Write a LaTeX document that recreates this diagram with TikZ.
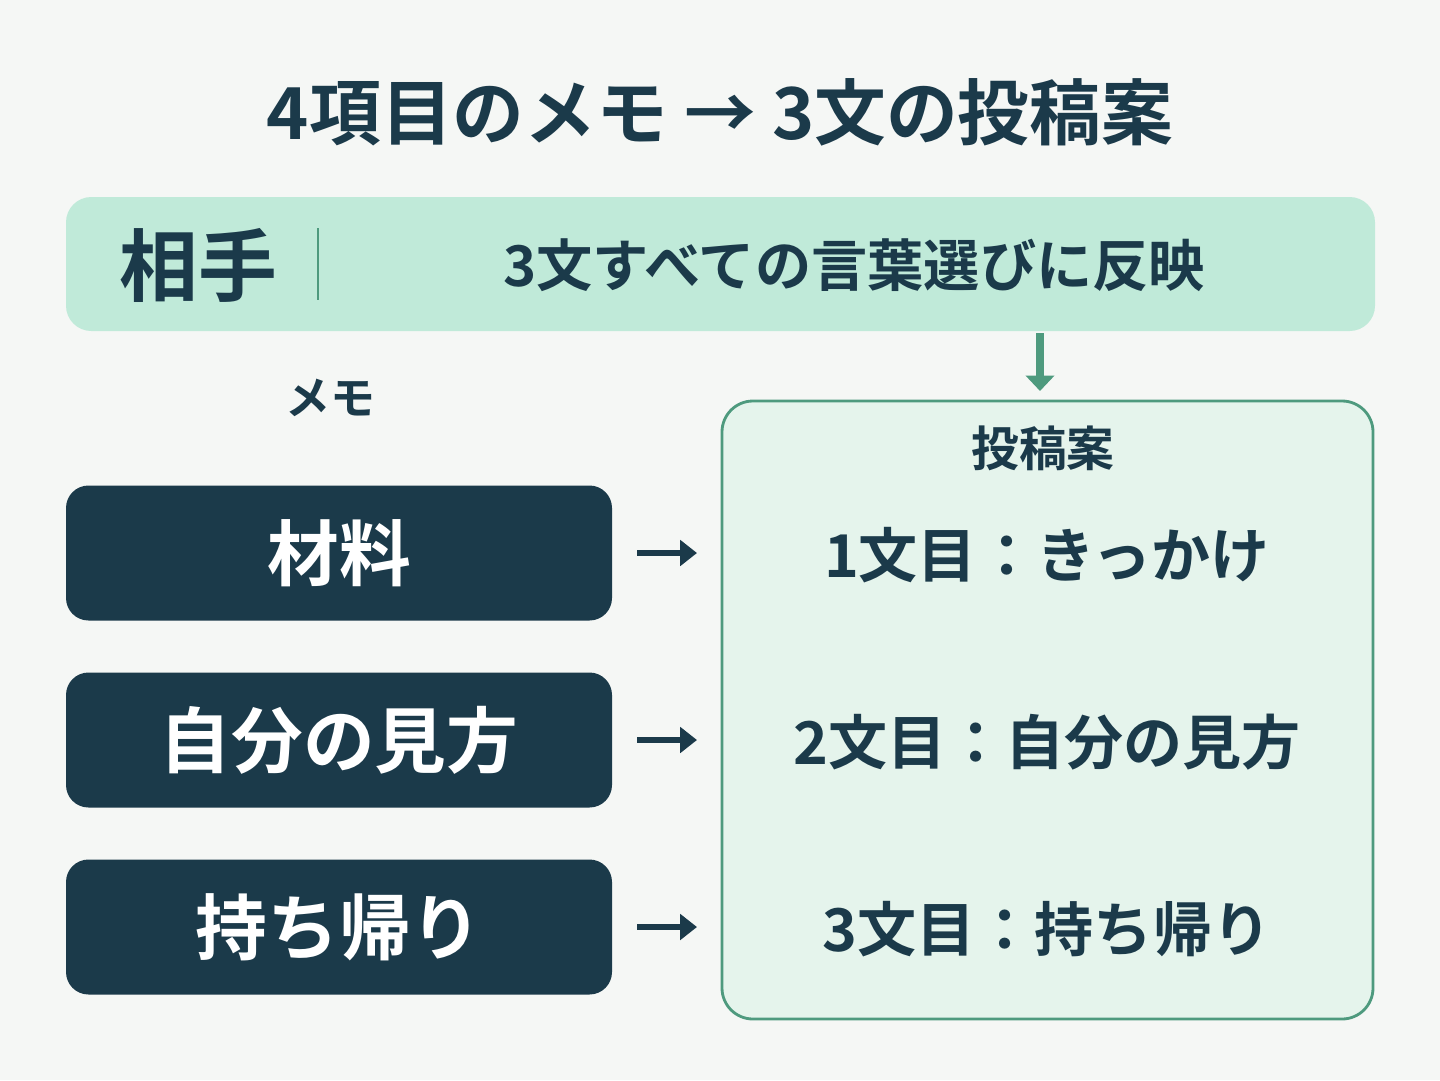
\documentclass[tikz,border=0pt]{standalone}
\usepackage{fontspec}
\setmainfont{Noto Sans CJK JP Bold}
\usetikzlibrary{arrows.meta}
\definecolor{bg}{HTML}{F5F7F5}
\definecolor{dark}{HTML}{1B3A4A}
\definecolor{mint}{HTML}{C0EAD9}
\definecolor{pale}{HTML}{E5F4EC}
\definecolor{grn}{HTML}{4E9A7E}
\tikzset{
 dbox/.style={fill=dark,rounded corners=16pt},
 dtxt/.style={text=white,font=\fontsize{51}{55}\selectfont,anchor=center},
 rtxt/.style={text=dark,font=\fontsize{42}{46}\selectfont,anchor=center},
 sarr/.style={draw=dark,line width=4.5pt,-{Triangle[length=12pt,width=18pt]}},
}
\begin{document}
\begin{tikzpicture}[x=0.025cm,y=-0.025cm]
\fill[bg] (0,0) rectangle (1440,1080);
\useasboundingbox (0,0) rectangle (1440,1080);
\node[text=dark,font=\fontsize{51}{56}\selectfont] (title) at (720,112) {4項目のメモ → 3文の投稿案};
\node[fill=mint,rounded corners=18pt,minimum width=1309*0.025cm,minimum height=134*0.025cm] (band) at (720.5,264) {};
\node[text=dark,font=\fontsize{56}{60}\selectfont] (aite) at (198,265) {相手};
\draw[grn,line width=1.5pt] (318,228) -- (318,300);
\node[text=dark,font=\fontsize{40}{44}\selectfont] (hanei) at (854,265) {3文すべての言葉選びに反映};
\node[fill=pale,draw=grn,line width=2pt,rounded corners=22pt,minimum width=651*0.025cm,minimum height=618*0.025cm] (draft) at (1047.5,710) {};
\coordinate (dtop) at (1040,391);
\draw[grn,line width=5pt,-{Triangle[length=11pt,width=20pt]}] (1040,333) -- (dtop);
\node[text=dark,font=\fontsize{32}{35}\selectfont] (memo) at (330,398) {メモ};
\node[text=dark,font=\fontsize{34}{37}\selectfont] (toukou) at (1043,448) {投稿案};
\foreach \n/\y/\t/\r in {a/553/材料/1文目：きっかけ, b/740/自分の見方/2文目：自分の見方, c/927/持ち帰り/3文目：持ち帰り}{
 \node[dbox,minimum width=546*0.025cm,minimum height=135*0.025cm] (box\n) at (339,\y) {};
 \node[dtxt] at (box\n) {\t};
 \node[rtxt] (line\n) at (1047,\y+2) {\r};
 \coordinate (s\n) at (637,\y);
 \coordinate (e\n) at (697,\y);
 \draw[sarr] (s\n) -- (e\n);
}
\end{tikzpicture}
\end{document}
